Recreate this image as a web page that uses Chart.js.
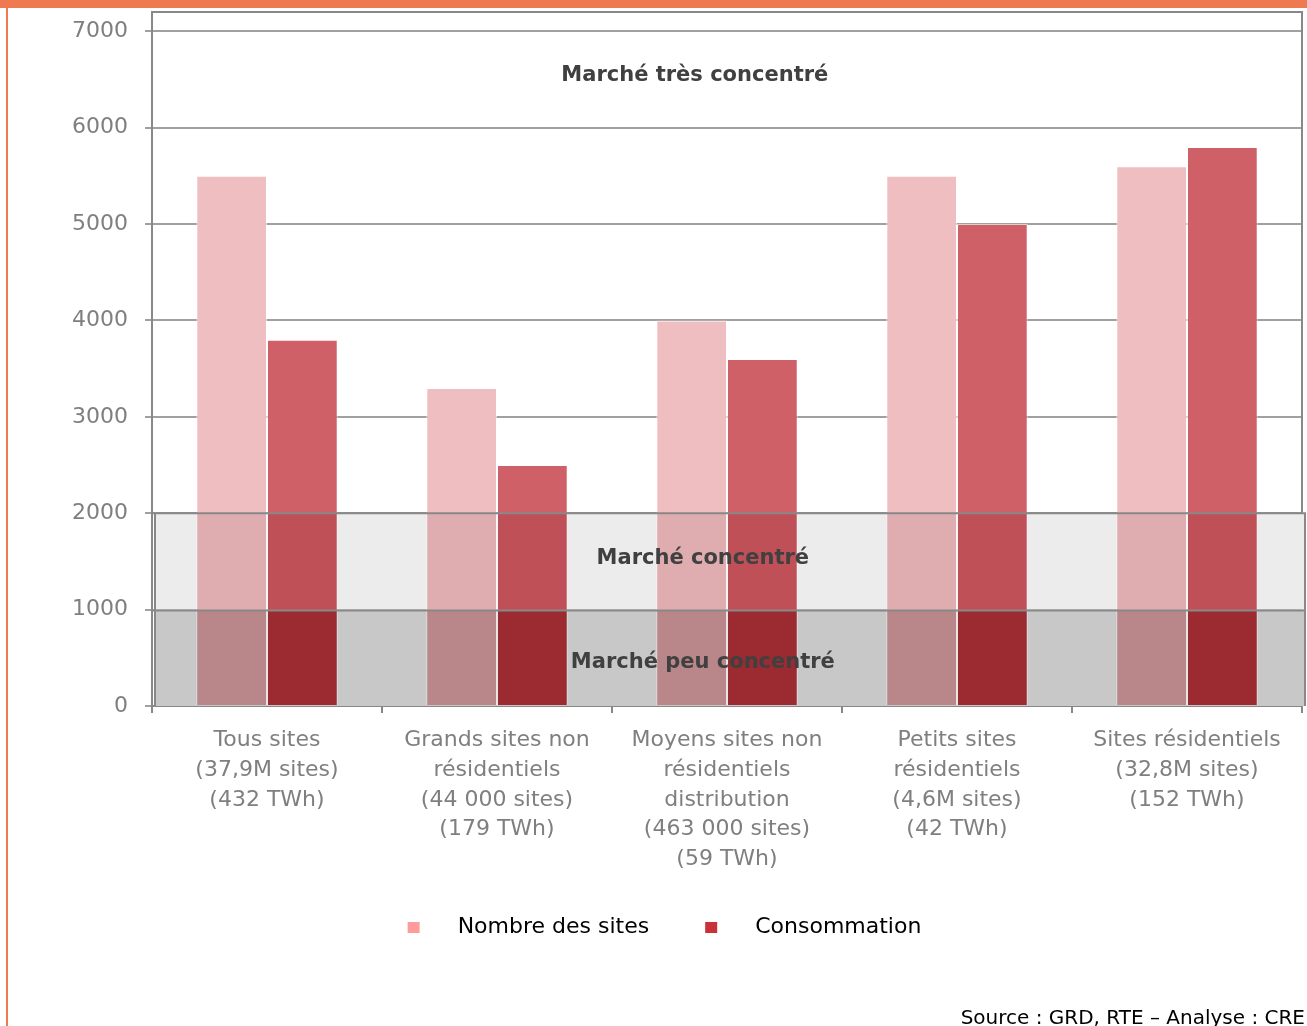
<!DOCTYPE html>
<html lang="fr">
<head>
<meta charset="utf-8">
<title>Indice HHI par segment</title>
<script src="https://cdn.jsdelivr.net/npm/chart.js@4.4.1/dist/chart.umd.min.js"></script>
<style>
  html, body { margin: 0; padding: 0; background: #fff; }
  #wrap { position: relative; width: 1307px; height: 1026px; }
</style>
</head>
<body>
<div id="wrap"><canvas id="chart"></canvas></div>
<script>
// data
const categories = [
  ["Tous sites", "(37,9M sites)", "(432 TWh)"],
  ["Grands sites non", "résidentiels", "(44 000 sites)", "(179 TWh)"],
  ["Moyens sites non", "résidentiels", "distribution", "(463 000 sites)", "(59 TWh)"],
  ["Petits sites", "résidentiels", "(4,6M sites)", "(42 TWh)"],
  ["Sites résidentiels", "(32,8M sites)", "(152 TWh)"]
];
const seriesNames = ["Nombre des sites", "Consommation"];
const nombreSites = [5500, 3300, 4000, 5500, 5600];
const consommation = [3800, 2500, 3600, 5000, 5800];
const yMax = 7200;
const yTickValues = [0, 1000, 2000, 3000, 4000, 5000, 6000, 7000];
const bandLimits = [1000, 2000];
const bandLabels = ["Marché peu concentré", "Marché concentré", "Marché très concentré"];
const bandLabelValues = [450, 1530, 6540];
const sourceText = "Source : GRD, RTE \u2013 Analyse : CRE";

// colours: [below 1000, 1000-2000, above 2000]
const lightZones = ["#b98789", "#dfacaf", "#efbec1"];
const darkZones = ["#9b2a31", "#c05058", "#d06068"];
const legendColors = ["#ff9b9b", "#c9313b"];

const FONT = "'DejaVu Sans', 'Noto Sans', sans-serif";

function zoneFill(zones) {
  return (ctx) => {
    const chart = ctx.chart;
    const y = chart.scales.y;
    if (!chart.chartArea || !y) return zones[2];
    const y0 = y.getPixelForValue(0);
    const yTop = y.getPixelForValue(yMax);
    const g = chart.ctx.createLinearGradient(0, y0, 0, yTop);
    const s1 = (y0 - y.getPixelForValue(bandLimits[0])) / (y0 - yTop);
    const s2 = (y0 - y.getPixelForValue(bandLimits[1])) / (y0 - yTop);
    g.addColorStop(0, zones[0]);
    g.addColorStop(s1, zones[0]);
    g.addColorStop(s1, zones[1]);
    g.addColorStop(s2, zones[1]);
    g.addColorStop(s2, zones[2]);
    g.addColorStop(1, zones[2]);
    return g;
  };
}

// frame, grey bands, band labels, legend, source
const decor = {
  id: "decor",
  beforeDraw(chart) {
    const c = chart.ctx;
    c.save();
    c.fillStyle = "#ef7a52";
    c.fillRect(0, 0, chart.width, 8);
    c.fillRect(6, 0, 2, chart.height);
    c.restore();
  },
  beforeDatasetsDraw(chart) {
    const c = chart.ctx, a = chart.chartArea, y = chart.scales.y;
    const p0 = y.getPixelForValue(0);
    const p1 = y.getPixelForValue(bandLimits[0]);
    const p2 = y.getPixelForValue(bandLimits[1]);
    c.save();
    c.fillStyle = "#ececec";
    c.fillRect(a.left + 2, p2, a.right - a.left + 2, p1 - p2);
    c.fillStyle = "#c8c8c8";
    c.fillRect(a.left + 2, p1, a.right - a.left + 2, p0 - p1);
    c.restore();
  },
  afterDatasetsDraw(chart) {
    const c = chart.ctx, a = chart.chartArea, y = chart.scales.y;
    const p0 = y.getPixelForValue(0);
    const p1 = y.getPixelForValue(bandLimits[0]);
    const p2 = y.getPixelForValue(bandLimits[1]);
    c.save();
    c.strokeStyle = "#888888";
    c.lineWidth = 2;
    c.beginPath();
    c.moveTo(a.left, p2); c.lineTo(a.right + 4, p2);
    c.moveTo(a.left, p1 + 1); c.lineTo(a.right + 4, p1 + 1);
    c.moveTo(a.left + 3, p2); c.lineTo(a.left + 3, p0);
    c.moveTo(a.right + 3, p2); c.lineTo(a.right + 3, p0);
    c.stroke();
    // outer frame
    c.beginPath();
    c.moveTo(a.left, a.top); c.lineTo(a.right, a.top); c.lineTo(a.right, p2);
    c.stroke();

    c.fillStyle = "#404040";
    c.font = "bold 21px " + FONT;
    c.textAlign = "center";
    c.textBaseline = "middle";
    const w = a.right - a.left;
    c.fillText(bandLabels[0], a.left + 0.479 * w, y.getPixelForValue(bandLabelValues[0]));
    c.fillText(bandLabels[1], a.left + 0.479 * w, y.getPixelForValue(bandLabelValues[1]));
    c.fillText(bandLabels[2], a.left + 0.472 * w, y.getPixelForValue(bandLabelValues[2]));
    c.restore();
  },
  afterDraw(chart) {
    const c = chart.ctx;
    c.save();
    c.font = "22px " + FONT;
    c.textBaseline = "alphabetic";
    c.textAlign = "left";
    const box = 12, gap = 38, spacing = 56;
    const widths = chart.data.datasets.map(d => c.measureText(d.label).width);
    const total = widths.reduce((s, w) => s + box + gap + w, 0) + spacing * (widths.length - 1);
    let x = chart.width / 2 + 11 - total / 2;
    const base = 933;
    chart.data.datasets.forEach((d, i) => {
      c.fillStyle = legendColors[i];
      c.fillRect(x, base - 11, box, 11);
      c.fillStyle = "#000000";
      c.fillText(d.label, x + box + gap, base);
      x += box + gap + widths[i] + spacing;
    });
    c.font = "20px " + FONT;
    c.textAlign = "right";
    c.fillText(sourceText, chart.width - 2, 1024);
    c.restore();
  }
};

new Chart(document.getElementById("chart"), {
  type: "bar",
  data: {
    labels: categories,
    datasets: [
      {
        label: seriesNames[0],
        data: nombreSites,
        backgroundColor: zoneFill(lightZones),
        borderColor: "rgba(255, 255, 255, 0.55)",
        borderWidth: 1,
        categoryPercentage: 0.615,
        barPercentage: 1
      },
      {
        label: seriesNames[1],
        data: consommation,
        backgroundColor: zoneFill(darkZones),
        borderColor: "rgba(255, 255, 255, 0.55)",
        borderWidth: 1,
        categoryPercentage: 0.615,
        barPercentage: 1
      }
    ]
  },
  options: {
    responsive: true,
    maintainAspectRatio: false,
    animation: false,
    layout: { padding: { left: 0, right: 5, top: 12, bottom: 146 } },
    plugins: {
      legend: { display: false },
      title: { display: false },
      tooltip: { enabled: false }
    },
    scales: {
      x: {
        grid: { display: true, drawOnChartArea: false, offset: true, color: "#888888", lineWidth: 2, tickLength: 7 },
        border: { color: "#888888", width: 2 },
        ticks: {
          color: "#7f7f7f",
          font: { family: FONT, size: 22, lineHeight: 1.36 },
          padding: 12,
          maxRotation: 0,
          autoSkip: false
        },
        afterFit(scale) {
          scale.height = 174;
          scale.paddingLeft = 0;
          scale.paddingRight = 0;
        }
      },
      y: {
        min: 0,
        max: yMax,
        grid: { color: "#a0a0a0", lineWidth: 2, tickLength: 7 },
        border: { color: "#888888", width: 2 },
        ticks: {
          color: "#7f7f7f",
          font: { family: FONT, size: 22 },
          padding: 17,
          callback: (v) => String(v)
        },
        afterBuildTicks(scale) {
          scale.ticks = yTickValues.map(v => ({ value: v }));
        },
        afterFit(scale) {
          scale.width = 152;
          scale.paddingTop = 0;
          scale.paddingBottom = 0;
        }
      }
    }
  },
  plugins: [decor]
});
</script>
</body>
</html>
